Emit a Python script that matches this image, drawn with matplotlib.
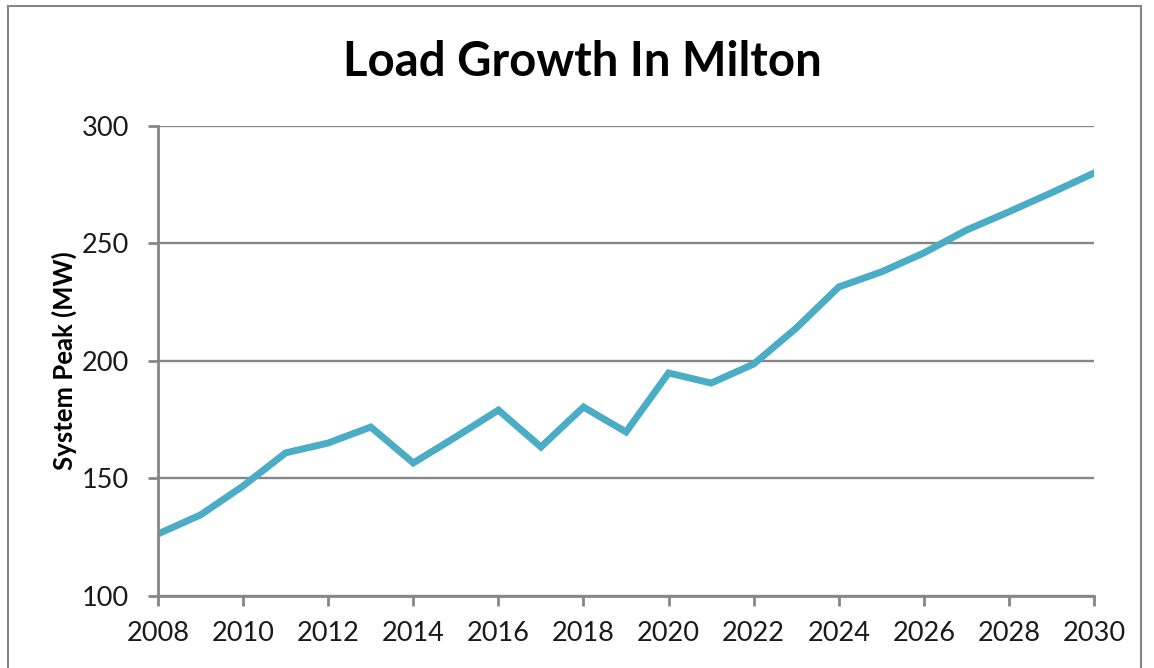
import matplotlib
matplotlib.use('Agg')
from matplotlib import pyplot as plt
from matplotlib.patches import Rectangle

plt.rcParams['font.family'] = ['Lato', 'DejaVu Sans']

years = list(range(2008, 2031))
peak_mw = [126.4, 134.5, 146.8, 160.9, 165.1, 171.9, 156.6, 167.7, 179.1, 163.4,
           180.4, 169.8, 194.9, 190.6, 198.7, 214.0, 231.5, 237.9, 246.0, 255.7,
           263.5, 271.6, 280.0]
x_ticks = list(range(2008, 2031, 2))
y_ticks = [100, 150, 200, 250, 300]

grey = '#868686'

fig = plt.figure(figsize=(11.54, 6.68), dpi=100)
ax = fig.add_axes([0.1369, 0.1078, 0.8112, 0.7036])

# chart area outline
fig.patches.append(Rectangle((8 / 1154, -0.1), (1141 - 8) / 1154, 1.1 - 6 / 668,
                             transform=fig.transFigure, fill=False,
                             edgecolor=grey, linewidth=1.5))

ax.plot(years, peak_mw, color='#4bacc6', linewidth=5, solid_joinstyle='miter')

ax.set_xlim(2008, 2030)
ax.set_ylim(100, 300)
ax.set_xticks(x_ticks)
ax.set_yticks(y_ticks)
ax.grid(axis='y', color=grey, linewidth=1.7)
ax.set_axisbelow(True)
for s in ['top', 'right']:
    ax.spines[s].set_visible(False)
for s in ['left', 'bottom']:
    ax.spines[s].set_color(grey)
    ax.spines[s].set_linewidth(2)
ax.tick_params(axis='both', colors=grey, width=2, length=7, labelsize=19.5,
               labelcolor='#1a1a1a')
ax.tick_params(axis='x', pad=11)
ax.tick_params(axis='y', pad=14)

ax.set_ylabel('System Peak (MW)', fontsize=18.5, fontweight='bold', labelpad=3)
fig.text(0.5043, 0.907, 'Load Growth In Milton', fontsize=34, fontweight='bold',
         ha='center', va='center')

fig.savefig('out.png', dpi=100)
